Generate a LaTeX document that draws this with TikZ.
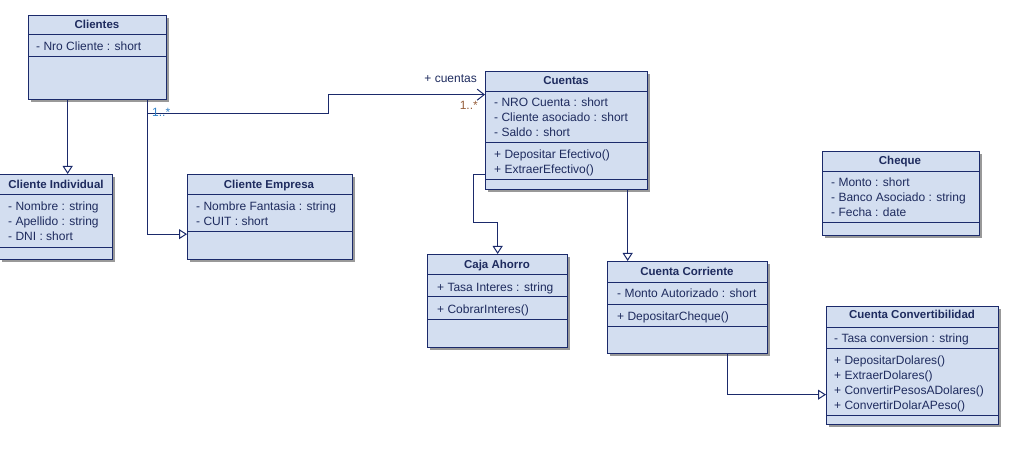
\documentclass[tikz,border=0pt]{standalone}
\usepackage{fontspec}
\setmainfont{Liberation Sans}
\usetikzlibrary{arrows.meta,shadows,positioning}

\definecolor{umlfill}{RGB}{211,222,240}
\definecolor{umlline}{RGB}{27,42,107}
\definecolor{umltext}{RGB}{30,43,94}
\definecolor{multblue}{RGB}{50,130,200}
\definecolor{multbrown}{RGB}{150,95,60}

\begin{document}
\begin{tikzpicture}[x=1pt,y=-1pt,
    font=\fontsize{12}{14}\selectfont,
    classbox/.style={draw=umlline, line width=1.3pt, fill=umlfill, anchor=north west,
      inner sep=0pt, drop shadow={shadow xshift=2pt, shadow yshift=-2pt, fill=black!40, opacity=1}},
    sep/.style={draw=umlline, line width=1pt},
    title/.style={text=umltext, font=\fontsize{11.5}{14}\selectfont\bfseries, anchor=base, inner sep=0pt},
    member/.style={text=umltext, anchor=base west, inner sep=0pt},
    inherit/.style={draw=umlline, line width=1pt, -{Triangle[open, length=8pt, width=10pt]}},
    assoc/.style={draw=umlline, line width=1pt, -{Straight Barb[length=7pt, width=11pt]}}]
    \useasboundingbox (0,0) rectangle (1018,457);

    % Clientes
    \node[classbox, minimum width=138pt, minimum height=84pt] (cli) at (28,15) {};
    \foreach \y in {35,57} \draw[sep] (cli.west |- 0,\y) -- (cli.east |- 0,\y);
    \node[title] (cli-t) at (97,29) {Clientes};
    \node[member] (cli-a1) at (36,51) {- Nro Cliente : short};

    % Cliente Individual
    \node[classbox, minimum width=113pt, minimum height=85pt] (ind) at (-1,174) {};
    \foreach \y in {195,248} \draw[sep] (ind.west |- 0,\y) -- (ind.east |- 0,\y);
    \node[title] (ind-t) at (56,189) {Cliente Individual};
    \node[member] (ind-a1) at (8,211) {- Nombre : string};
    \node[member] (ind-a2) at (8,226) {- Apellido : string};
    \node[member] (ind-a3) at (8,241) {- DNI : short};

    % Cliente Empresa
    \node[classbox, minimum width=165pt, minimum height=85pt] (emp) at (187,174) {};
    \foreach \y in {195,232} \draw[sep] (emp.west |- 0,\y) -- (emp.east |- 0,\y);
    \node[title] (emp-t) at (269,189) {Cliente Empresa};
    \node[member] (emp-a1) at (196,211) {- Nombre Fantasia : string};
    \node[member] (emp-a2) at (196,226) {- CUIT : short};

    % Cuentas
    \node[classbox, minimum width=162pt, minimum height=118pt] (cue) at (485,71) {};
    \foreach \y in {92,143,180} \draw[sep] (cue.west |- 0,\y) -- (cue.east |- 0,\y);
    \node[title] (cue-t) at (566,85) {Cuentas};
    \node[member] (cue-a1) at (494,107) {- NRO Cuenta : short};
    \node[member] (cue-a2) at (494,122) {- Cliente asociado : short};
    \node[member] (cue-a3) at (494,137) {- Saldo : short};
    \node[member] (cue-m1) at (494,159) {+ Depositar Efectivo()};
    \node[member] (cue-m2) at (494,174) {+ ExtraerEfectivo()};

    % Caja Ahorro
    \node[classbox, minimum width=140pt, minimum height=93pt] (caja) at (427,254) {};
    \foreach \y in {275,297,319} \draw[sep] (caja.west |- 0,\y) -- (caja.east |- 0,\y);
    \node[title] (caja-t) at (497,269) {Caja Ahorro};
    \node[member] (caja-a1) at (437,291) {+ Tasa Interes : string};
    \node[member] (caja-m1) at (437,313) {+ CobrarInteres()};

    % Cuenta Corriente
    \node[classbox, minimum width=160pt, minimum height=92pt] (cor) at (607,261) {};
    \foreach \y in {283,305,326} \draw[sep] (cor.west |- 0,\y) -- (cor.east |- 0,\y);
    \node[title] (cor-t) at (687,276) {Cuenta Corriente};
    \node[member] (cor-a1) at (617,298) {- Monto Autorizado : short};
    \node[member] (cor-m1) at (617,320) {+ DepositarCheque()};

    % Cheque
    \node[classbox, minimum width=157pt, minimum height=84pt] (che) at (822,151) {};
    \foreach \y in {172,223} \draw[sep] (che.west |- 0,\y) -- (che.east |- 0,\y);
    \node[title] (che-t) at (900,165) {Cheque};
    \node[member] (che-a1) at (831,187) {- Monto : short};
    \node[member] (che-a2) at (831,202) {- Banco Asociado : string};
    \node[member] (che-a3) at (831,217) {- Fecha : date};

    % Cuenta Convertibilidad
    \node[classbox, minimum width=172pt, minimum height=118pt] (conv) at (826,306) {};
    \foreach \y in {327,348,415} \draw[sep] (conv.west |- 0,\y) -- (conv.east |- 0,\y);
    \node[title] (conv-t) at (912,319) {Cuenta Convertibilidad};
    \node[member] (conv-a1) at (834,342) {- Tasa conversion : string};
    \node[member] (conv-m1) at (834,364) {+ DepositarDolares()};
    \node[member] (conv-m2) at (834,379) {+ ExtraerDolares()};
    \node[member] (conv-m3) at (834,394) {+ ConvertirPesosADolares()};
    \node[member] (conv-m4) at (834,409) {+ ConvertirDolarAPeso()};

    % herencia
    \draw[inherit] ([xshift=-30pt]cli.south) -- ([xshift=-30pt]cli.south |- ind.north);
    \draw[inherit] ([xshift=50pt]cli.south) |- ([yshift=-17pt]emp.west);
    \draw[inherit] ([yshift=-44pt]cue.west) -- ++(-12,0) -- ++(0,48) -| (caja.north);
    \draw[inherit] ([xshift=61pt]cue.south) -- ([xshift=61pt]cue.south |- cor.north);
    \draw[inherit] ([xshift=40pt]cor.south) |- ([yshift=-29pt]conv.west);

    % asociacion
    \coordinate (a1) at ([xshift=50pt,yshift=-13pt]cli.south);
    \draw[assoc] (a1) -- (a1 -| 328,0) |- ([yshift=36pt]cue.west);
    \node[member, text=multblue] (m-cli) at (152,117) {1..*};
    \node[member, anchor=base east] (rol) at (477,83) {+ cuentas};
    \node[member, anchor=base east, text=multbrown] (m-cue) at (478,110) {1..*};
  \end{tikzpicture}
\end{document}
